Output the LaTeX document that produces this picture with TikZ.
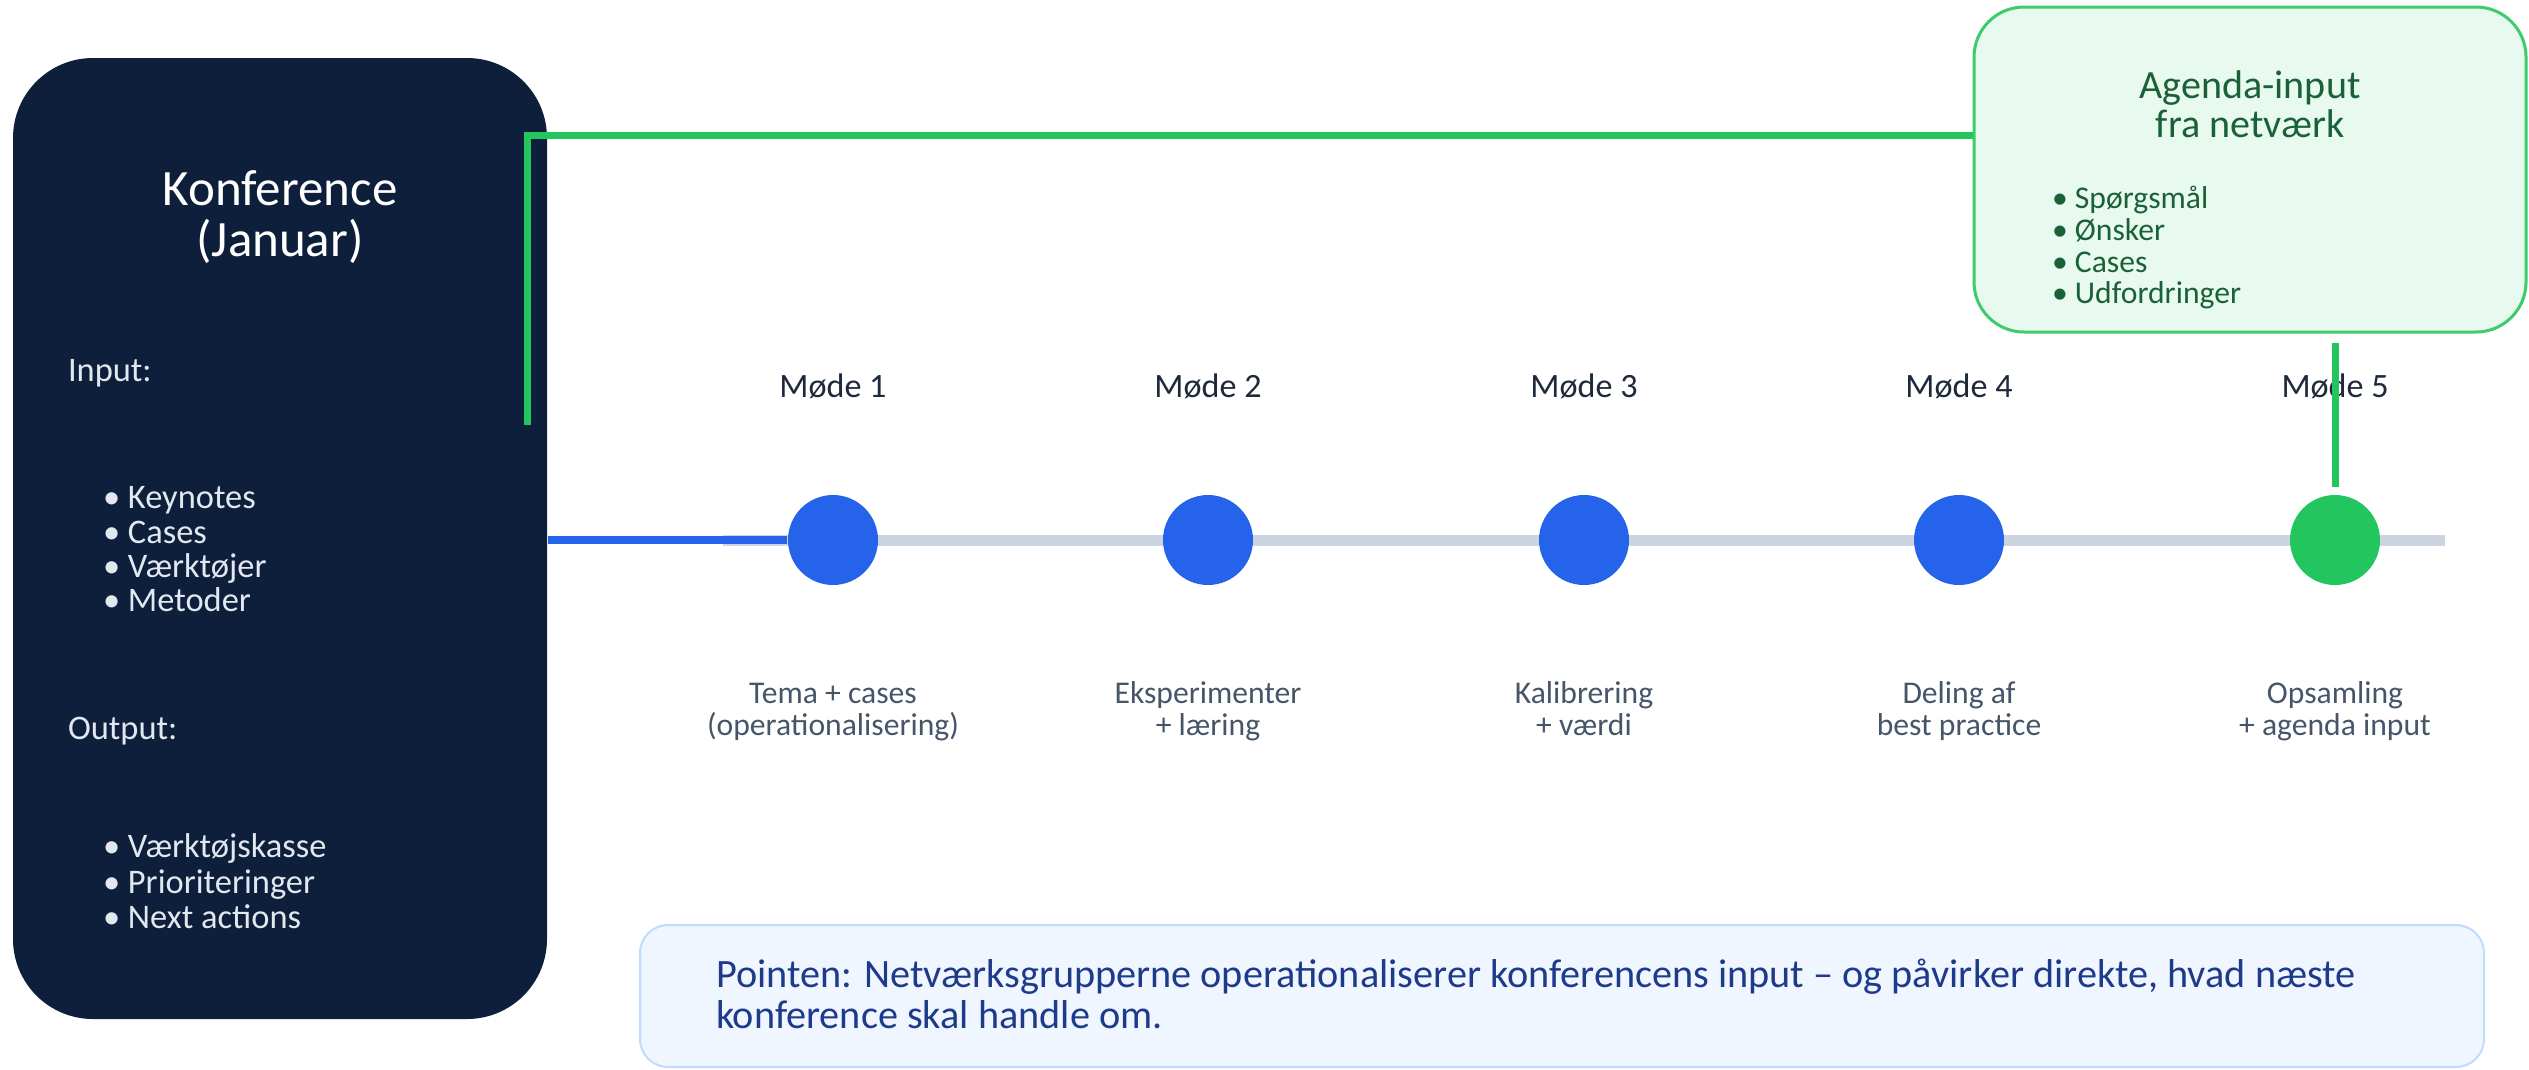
\documentclass[tikz,border=0pt]{standalone}
\usepackage{fontspec}
\setmainfont{Carlito}
\usetikzlibrary{calc}
\definecolor{navy}{HTML}{0D1F3A}
\definecolor{lightx}{HTML}{E2E8F0}
\definecolor{blueM}{HTML}{2563EB}
\definecolor{greenM}{HTML}{22C55E}
\definecolor{grayL}{HTML}{CBD5E1}
\definecolor{agFill}{HTML}{E8FAF0}
\definecolor{agDraw}{HTML}{3DCB6C}
\definecolor{agText}{HTML}{1B6138}
\definecolor{mText}{HTML}{1E293B}
\definecolor{dText}{HTML}{475569}
\definecolor{bFill}{HTML}{EFF6FF}
\definecolor{bDraw}{HTML}{BFDBFE}
\definecolor{bText}{HTML}{1E3A8A}
\newcommand\fsz[1]{\fontsize{#1}{#1}\selectfont}
\begin{document}
\begin{tikzpicture}[x=0.1mm,y=-0.1mm,
  txt/.style={inner sep=0,outer sep=0},
  conftitle/.style={txt,anchor=base,text=white,font=\fsz{14.5}},
  conftext/.style={txt,anchor=base west,text=lightx,font=\fsz{9.8}},
  mlabel/.style={txt,anchor=base,text=mText,font=\fsz{9.7}},
  desc/.style={txt,anchor=base,text=dText,font=\fsz{9}},
  agtitle/.style={txt,anchor=base,text=agText,font=\fsz{11.4}},
  agitem/.style={txt,anchor=base west,text=agText,font=\fsz{9}},
  btext/.style={txt,anchor=base west,text=bText,font=\fsz{11.45}},
  dot/.style={circle,inner sep=0,minimum size=9mm},
  greenline/.style={draw=greenM,line width=0.7mm},
  blueline/.style={draw=blueM,line width=0.8mm},
  grayline/.style={draw=grayL,line width=1.1mm},
]
\useasboundingbox (0,0) rectangle (2529,1069);

% Conference box
\node[fill=navy,rounded corners=8mm,minimum width=53.4mm,minimum height=96.1mm,inner sep=0] (conf) at (280,538.5) {};
\node[conftitle] (ct1) at (280,205) {Konference};
\node[conftitle] (ct2) at (280,256) {(Januar)};
\node[conftext] (inp) at (68,381) {Input:};
\node[conftext] (i1) at (103,508) {• Keynotes};
\node[conftext] (i2) at (103,543) {• Cases};
\node[conftext] (i3) at (103,577) {• Værktøjer};
\node[conftext] (i4) at (103,611) {• Metoder};
\node[conftext] (outp) at (68,739) {Output:};
\node[conftext] (o1) at (103,857) {• Værktøjskasse};
\node[conftext] (o2) at (103,893) {• Prioriteringer};
\node[conftext] (o3) at (103,928) {• Next actions};

% Agenda box
\node[fill=agFill,draw=agDraw,line width=0.3mm,rounded corners=5mm,minimum width=55.2mm,minimum height=32.5mm,inner sep=0] (agenda) at (2250,169.5) {};
\node[agtitle] (at1) at (2250,98) {Agenda-input};
\node[agtitle] (at2) at (2250,137) {fra netværk};
\node[agitem] (a1) at (2052,208) {• Spørgsmål};
\node[agitem] (a2) at (2052,240) {• Ønsker};
\node[agitem] (a3) at (2052,272) {• Cases};
\node[agitem] (a4) at (2052,303) {• Udfordringer};

% Green connector from conference to agenda
\coordinate (gA) at (527,425);
\draw[greenline] (gA) |- (agenda.west |- 0,135);

% Timeline
\coordinate (gl0) at (723,540);
\coordinate (gl1) at (2445,540);
\draw[grayline] (gl0) -- (gl1);
\node[dot,fill=blueM] (m1) at (833,540) {};
\node[dot,fill=blueM] (m2) at (1208,540) {};
\node[dot,fill=blueM] (m3) at (1584,540) {};
\node[dot,fill=blueM] (m4) at (1959,540) {};
\node[dot,fill=greenM] (m5) at (2335,540) {};
\draw[blueline] (conf.east |- m1) -- (m1.west);

\node[mlabel] (l1) at (833,397) {Møde 1};
\node[mlabel] (l2) at (1208,397) {Møde 2};
\node[mlabel] (l3) at (1584,397) {Møde 3};
\node[mlabel] (l4) at (1959,397) {Møde 4};
\node[mlabel] (l5) at (2335,397) {Møde 5};

\node[desc] (d1a) at (833,703) {Tema + cases};
\node[desc] (d1b) at (833,735) {(operationalisering)};
\node[desc] (d2a) at (1208,703) {Eksperimenter};
\node[desc] (d2b) at (1208,735) {+ læring};
\node[desc] (d3a) at (1584,703) {Kalibrering};
\node[desc] (d3b) at (1584,735) {+ værdi};
\node[desc] (d4a) at (1959,703) {Deling af};
\node[desc] (d4b) at (1959,735) {best practice};
\node[desc] (d5a) at (2335,703) {Opsamling};
\node[desc] (d5b) at (2335,735) {+ agenda input};

% Green connector agenda -> Møde 5
\coordinate (gv0) at (2335,343);
\coordinate (gv1) at (2335,487);
\draw[greenline] (gv0) -- (gv1);

% Bottom box
\node[fill=bFill,draw=bDraw,line width=0.2mm,rounded corners=2.8mm,minimum width=184.4mm,minimum height=14.2mm,inner sep=0] (point) at (1562,996) {};
\node[btext] (p1) at (716,987) {Pointen: Netværksgrupperne operationaliserer konferencens input – og påvirker direkte, hvad næste};
\node[btext] (p2) at (716,1028) {konference skal handle om.};
\end{tikzpicture}
\end{document}
